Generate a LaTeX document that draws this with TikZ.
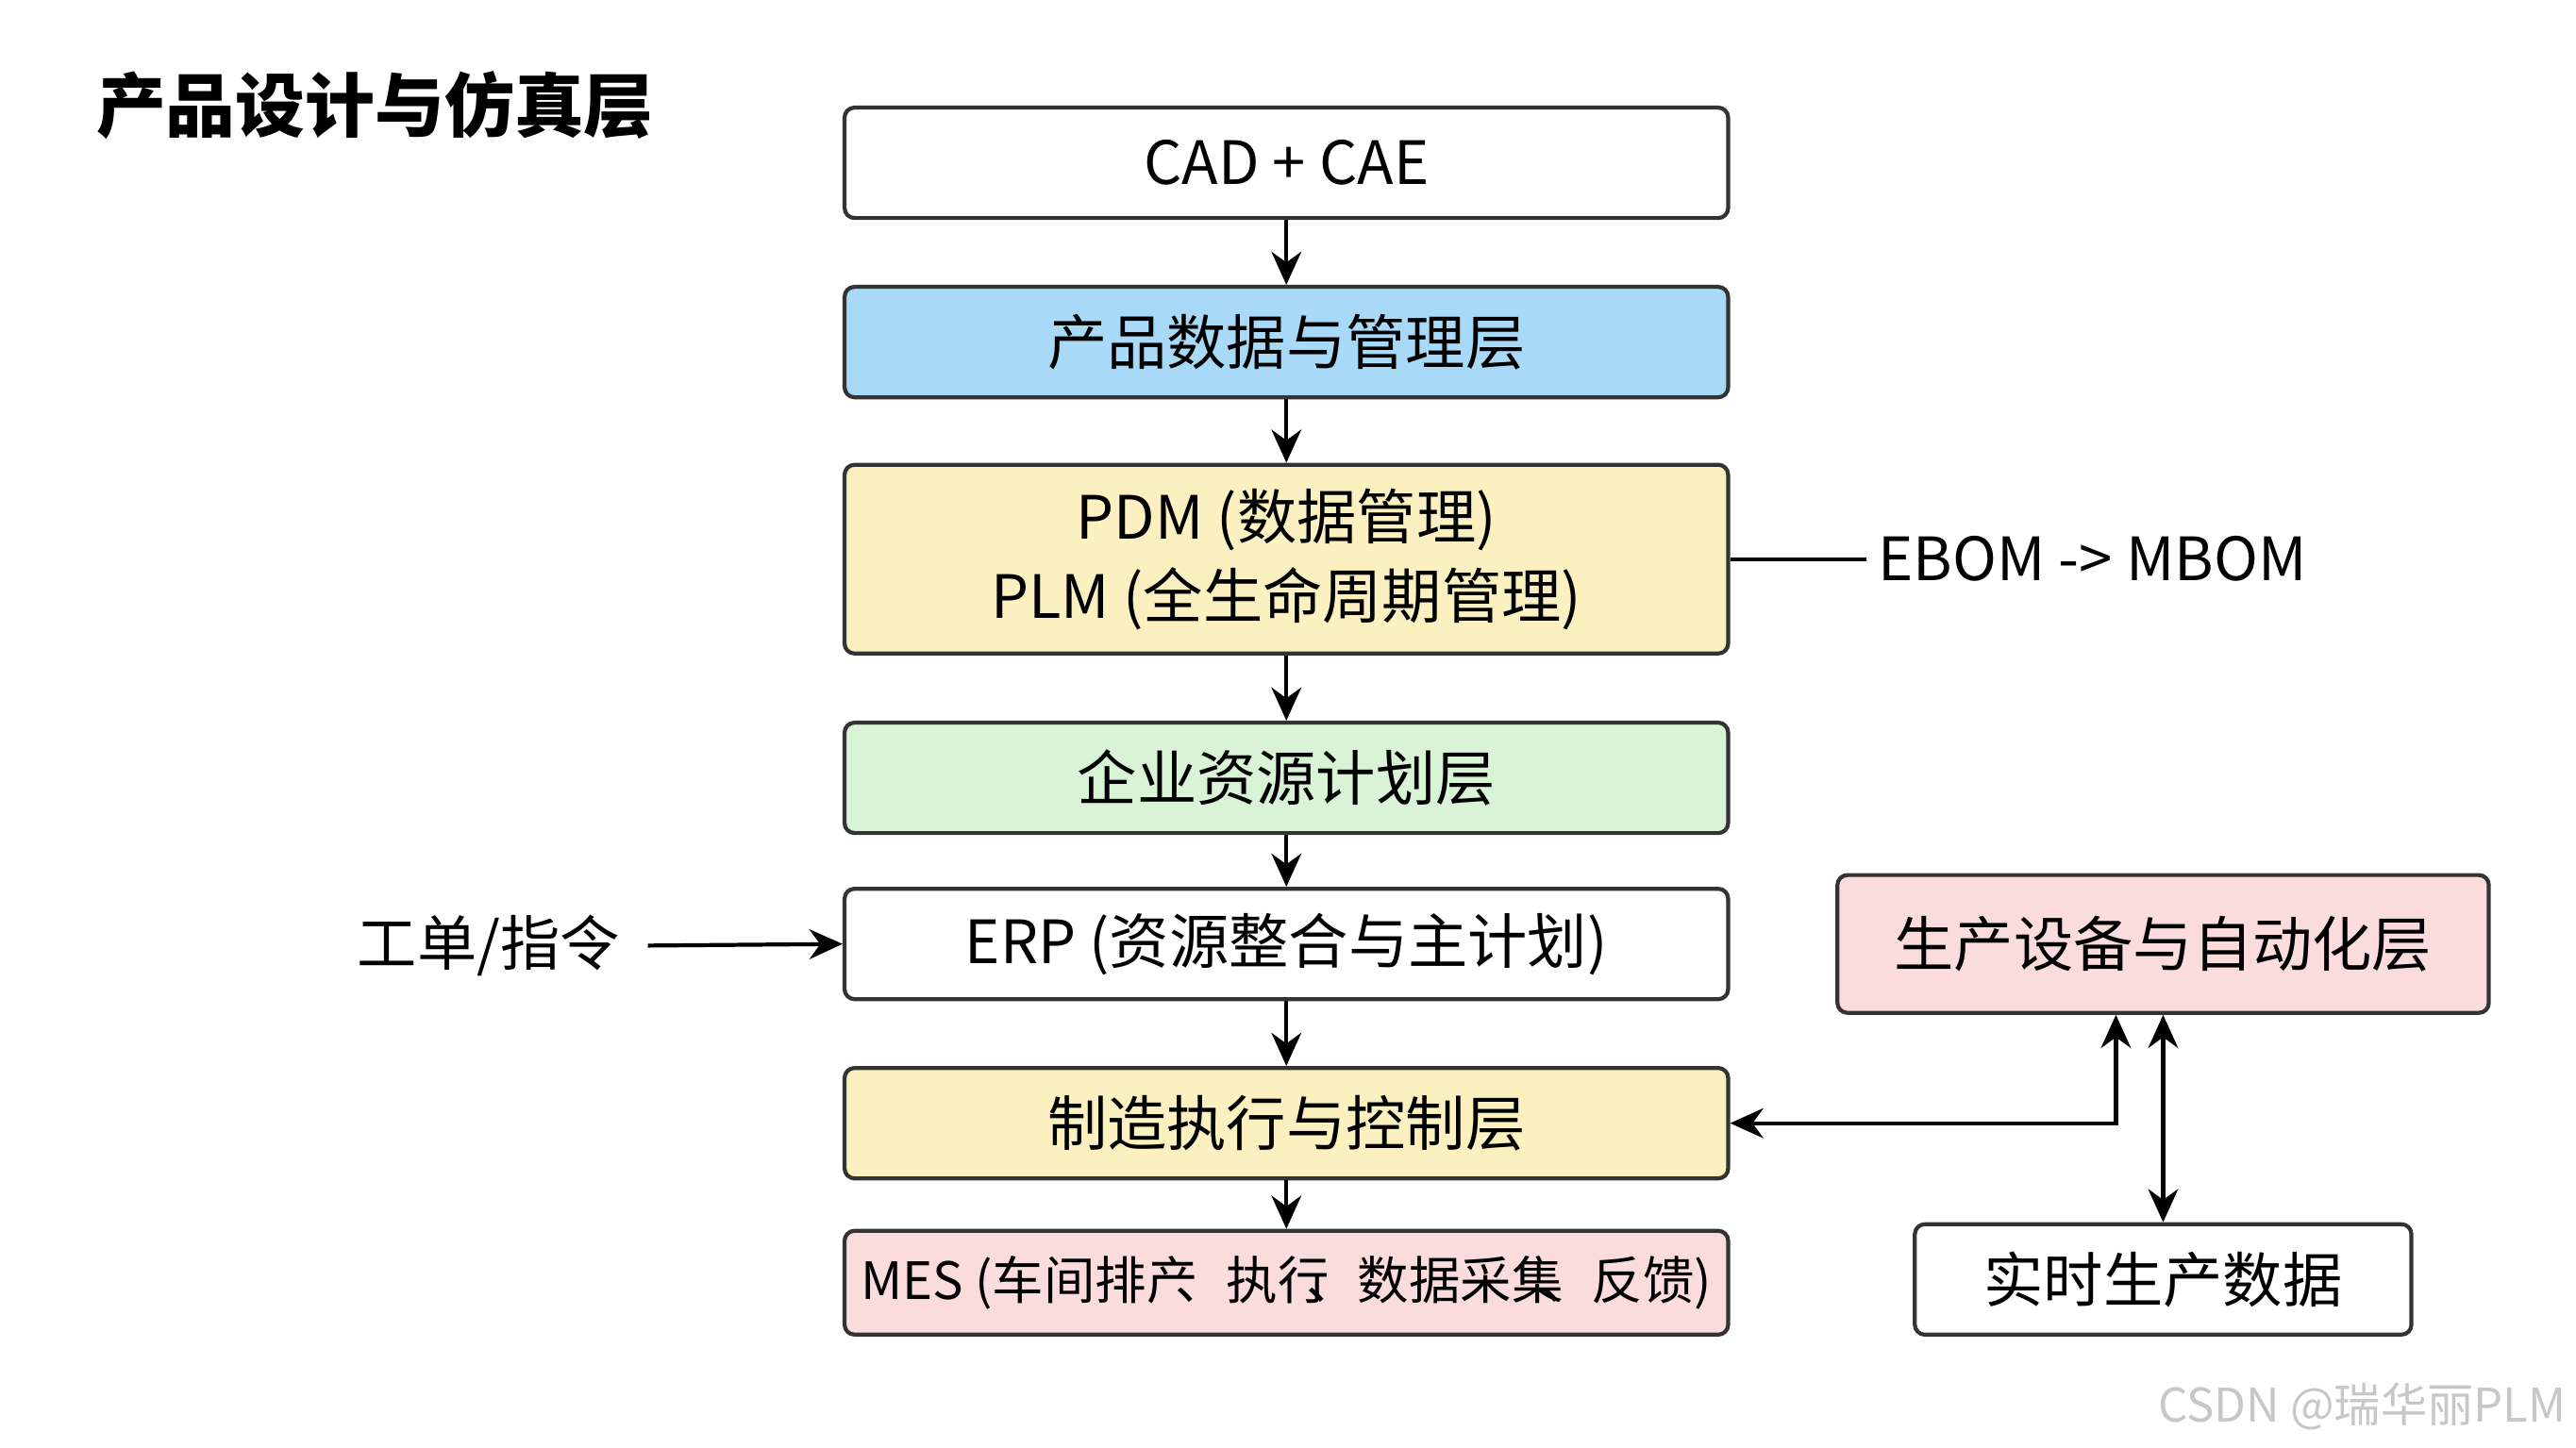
\documentclass[tikz,border=0pt]{standalone}
\usepackage{fontspec}
\setmainfont{Noto Sans CJK SC}
\usetikzlibrary{positioning,arrows.meta}
\definecolor{layblue}{HTML}{A8DAF8}
\definecolor{layyellow}{HTML}{FBF0C0}
\definecolor{laygreen}{HTML}{D8F3D6}
\definecolor{laypink}{HTML}{FBDCDC}
\tikzset{
  layer/.style={draw=black!80, line width=1.2pt, rounded corners=3pt, minimum width=9.36cm, minimum height=1.17cm, font=\fontsize{18}{24}\selectfont, align=center},
  side/.style={draw=black!80, line width=1.2pt, rounded corners=3pt, font=\fontsize{18}{22}\selectfont},
  flow/.style={-{Stealth[length=10pt,width=9pt]}, line width=1.2pt},
}
\begin{document}
\begin{tikzpicture}[x=0.01743cm, y=-0.01743cm]
  \useasboundingbox (0,0) rectangle (1566,880);

  \node[font=\fontsize{21}{25}\selectfont\bfseries] (title) at (228,64) {产品设计与仿真层};

  \node[layer] (cad) at (782,99) {CAD + CAE};
  \node[layer, fill=layblue] (pdl) at (782,208) {产品数据与管理层};
  \node[layer, fill=layyellow, minimum height=2cm] (plm) at (782,340) {PDM (数据管理)\\PLM (全生命周期管理)};
  \node[layer, fill=laygreen] (erl) at (782,473) {企业资源计划层};
  \node[layer, fill=white] (erp) at (782,574) {ERP (资源整合与主计划)};
  \node[layer, fill=layyellow] (mel) at (782,683) {制造执行与控制层};
  \node[layer, fill=laypink, minimum height=1.1cm, font=\fontsize{15.5}{20}\selectfont, inner xsep=2pt] (mes) at (782,780) {MES (车间排产\kern-0.45em、执行\kern-0.45em、数据采集\kern-0.45em、反馈)};

  \node[side, fill=laypink, minimum width=6.9cm, minimum height=1.46cm] (auto) at (1315,574) {生产设备与自动化层};
  \node[side, minimum width=5.26cm, minimum height=1.17cm] (rt) at (1315,778) {实时生产数据};

  \node[font=\fontsize{18}{22}\selectfont] (bom) at (1272,340) {EBOM -> MBOM};
  \node[font=\fontsize{18}{22}\selectfont] (wo) at (297,575) {工单/指令};
  \node[font=\fontsize{14}{16}\selectfont, text=black!22] (mark) at (1436,855) {CSDN @瑞华丽PLM};

  % vertical flow
  \draw[flow] (cad) -- (pdl);
  \draw[flow] (pdl) -- (plm);
  \draw[flow] (plm) -- (erl);
  \draw[flow] (erl) -- (erp);
  \draw[flow] (erp) -- (mel);
  \draw[flow] (mel) -- (mes);

  % side links
  \draw[line width=1.2pt] (plm.east) -- (bom.west);
  \draw[flow] (wo.east) ++(10,0) -- (erp.west);
  \draw[flow, {Stealth[length=10pt,width=9pt]}-{Stealth[length=10pt,width=9pt]}] (mel.east) -| ([xshift=-0.5cm]auto.south);
  \draw[flow, {Stealth[length=10pt,width=9pt]}-{Stealth[length=10pt,width=9pt]}] (auto.south) -- (rt.north);
\end{tikzpicture}
\end{document}
